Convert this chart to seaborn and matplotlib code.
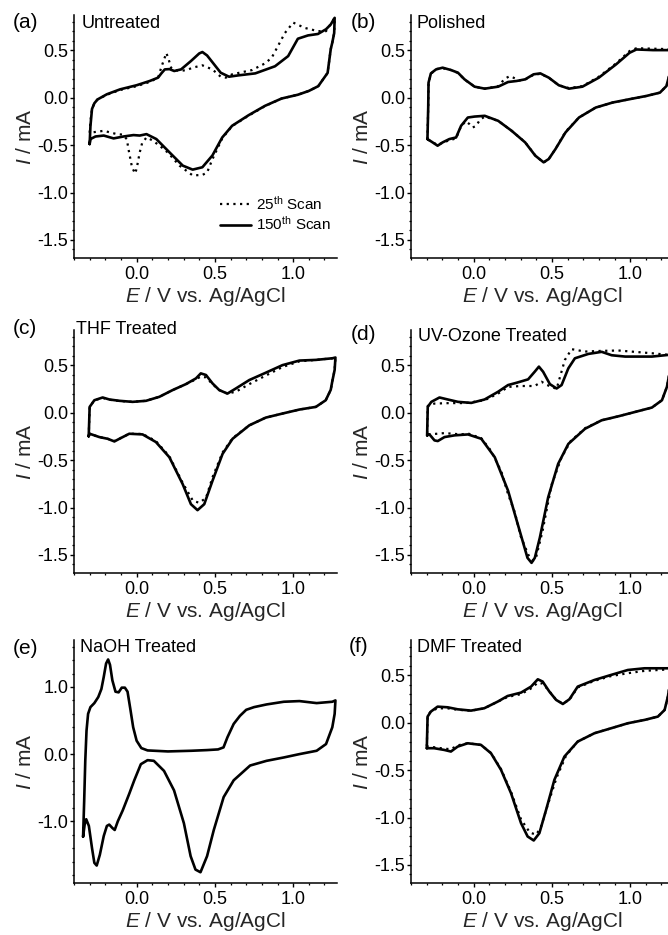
import numpy as np
import pandas as pd
import matplotlib
matplotlib.use("Agg")
import matplotlib.pyplot as plt
from matplotlib.ticker import MultipleLocator, FormatStrFormatter
import seaborn as sns

# ---------------- data (E in V, I in mA), loops: forward then reverse ----------------
# (a) Untreated
a150_E = [-0.30, -0.295, -0.285, -0.27, -0.25, -0.19, -0.105, 0.0, 0.084, 0.137, 0.158, 0.18, 0.21, 0.24, 0.284,
          0.347, 0.40, 0.42, 0.45, 0.495, 0.537, 0.59, 0.65, 0.758, 0.884, 0.968, 1.03, 1.095, 1.158, 1.21, 1.24, 1.265,
          1.262, 1.25, 1.24, 1.22, 1.16, 1.10, 1.03, 0.926, 0.82, 0.716, 0.61, 0.547, 0.484, 0.42, 0.358, 0.295, 0.21,
          0.126, 0.063, 0.02, -0.02, -0.084, -0.147, -0.21, -0.263, -0.295, -0.30]
a150_I = [-0.49, -0.30, -0.12, -0.06, -0.02, 0.035, 0.087, 0.13, 0.175, 0.21, 0.255, 0.297, 0.30, 0.28, 0.297,
          0.385, 0.465, 0.48, 0.444, 0.35, 0.262, 0.22, 0.234, 0.255, 0.33, 0.437, 0.62, 0.655, 0.67, 0.72, 0.77, 0.84,
          0.68, 0.58, 0.51, 0.26, 0.12, 0.07, 0.03, -0.01, -0.087, -0.185, -0.297, -0.42, -0.61, -0.734, -0.759, -0.717,
          -0.577, -0.437, -0.385, -0.40, -0.395, -0.41, -0.43, -0.40, -0.41, -0.437, -0.49]
a25_E = [-0.30, -0.295, -0.285, -0.27, -0.25, -0.19, -0.105, 0.0, 0.084, 0.137, 0.16, 0.19, 0.205, 0.22, 0.25,
         0.274, 0.32, 0.358, 0.42, 0.484, 0.537, 0.57, 0.61, 0.737, 0.82, 0.863, 0.947, 1.0, 1.074, 1.158, 1.21, 1.265,
         1.262, 1.25, 1.24, 1.22, 1.16, 1.10, 1.03, 0.926, 0.82, 0.716, 0.61, 0.547, 0.484, 0.45, 0.42, 0.358, 0.274,
         0.20, 0.147, 0.10, 0.063, 0.035, 0.02, 0.0, -0.01, -0.03, -0.05, -0.063, -0.09, -0.126, -0.21, -0.285, -0.30]
a25_I = [-0.37, -0.25, -0.12, -0.06, -0.02, 0.03, 0.08, 0.12, 0.165, 0.21, 0.33, 0.47, 0.40, 0.315, 0.29,
         0.28, 0.29, 0.315, 0.34, 0.297, 0.22, 0.21, 0.245, 0.29, 0.36, 0.42, 0.68, 0.79, 0.734, 0.70, 0.70, 0.84,
         0.68, 0.58, 0.51, 0.26, 0.12, 0.07, 0.03, -0.01, -0.09, -0.19, -0.30, -0.43, -0.65, -0.79, -0.815, -0.82, -0.717,
         -0.58, -0.507, -0.45, -0.42, -0.48, -0.577, -0.75, -0.80, -0.73, -0.56, -0.437, -0.39, -0.385, -0.35, -0.367, -0.37]

# (b) Polished
b150_E = [-0.295, -0.29, -0.288, -0.273, -0.24, -0.198, -0.144, -0.10, -0.058, 0.006, 0.071, 0.157, 0.22, 0.275, 0.329,
          0.383, 0.426, 0.48, 0.544, 0.609, 0.695, 0.80, 0.91, 0.996, 1.04, 1.146, 1.254, 1.27,
          1.265, 1.254, 1.232, 1.19, 1.103, 0.996, 0.888, 0.78, 0.673, 0.587, 0.523, 0.48, 0.447, 0.394, 0.329, 0.243,
          0.157, 0.071, 0.006, -0.037, -0.08, -0.112, -0.155, -0.198, -0.23, -0.262, -0.295]
b150_I = [-0.437, -0.10, 0.157, 0.255, 0.297, 0.315, 0.29, 0.262, 0.192, 0.115, 0.094, 0.115, 0.164, 0.175, 0.192,
          0.245, 0.255, 0.21, 0.13, 0.094, 0.115, 0.21, 0.35, 0.472, 0.507, 0.50, 0.50, 0.51,
          0.40, 0.262, 0.122, 0.052, 0.017, -0.017, -0.052, -0.105, -0.21, -0.367, -0.542, -0.647, -0.682, -0.612, -0.472,
          -0.35, -0.245, -0.192, -0.20, -0.21, -0.297, -0.42, -0.437, -0.472, -0.507, -0.472, -0.437]
b25_E = [-0.295, -0.29, -0.288, -0.273, -0.24, -0.198, -0.144, -0.10, -0.058, 0.006, 0.071, 0.157, 0.20, 0.23, 0.254, 0.29,
         0.329, 0.383, 0.426, 0.48, 0.544, 0.609, 0.695, 0.80, 0.91, 0.996, 1.04, 1.146, 1.254, 1.27,
         1.265, 1.254, 1.232, 1.19, 1.103, 0.996, 0.888, 0.78, 0.673, 0.587, 0.523, 0.48, 0.447, 0.394, 0.329, 0.243,
         0.157, 0.071, 0.04, 0.017, -0.006, -0.026, -0.05, -0.08, -0.112, -0.155, -0.198, -0.23, -0.262, -0.295]
b25_I = [-0.44, -0.10, 0.15, 0.25, 0.30, 0.31, 0.29, 0.26, 0.19, 0.115, 0.094, 0.12, 0.20, 0.225, 0.21, 0.18,
         0.19, 0.24, 0.25, 0.21, 0.13, 0.10, 0.12, 0.22, 0.36, 0.49, 0.52, 0.515, 0.51, 0.52,
         0.40, 0.262, 0.122, 0.052, 0.017, -0.017, -0.052, -0.105, -0.21, -0.36, -0.54, -0.647, -0.685, -0.61, -0.47,
         -0.35, -0.245, -0.20, -0.234, -0.297, -0.315, -0.28, -0.25, -0.30, -0.43, -0.45, -0.475, -0.50, -0.47, -0.44]

# (c) THF Treated
c150_E = [-0.306, -0.30, -0.27, -0.217, -0.174, -0.11, -0.026, 0.06, 0.145, 0.23, 0.315, 0.379, 0.41, 0.443, 0.485,
          0.528, 0.58, 0.634, 0.72, 0.825, 0.932, 1.04, 1.145, 1.25, 1.27,
          1.265, 1.25, 1.24, 1.208, 1.145, 1.04, 0.932, 0.825, 0.72, 0.613, 0.549, 0.485, 0.432, 0.389, 0.347, 0.294,
          0.209, 0.123, 0.038, -0.047, -0.11, -0.142, -0.185, -0.238, -0.30, -0.306]
c150_I = [-0.25, 0.06, 0.13, 0.159, 0.138, 0.124, 0.113, 0.124, 0.166, 0.237, 0.30, 0.36, 0.413, 0.396, 0.307,
          0.237, 0.20, 0.254, 0.343, 0.42, 0.50, 0.548, 0.555, 0.572, 0.58,
          0.45, 0.33, 0.24, 0.13, 0.06, 0.032, -0.01, -0.053, -0.134, -0.276, -0.435, -0.717, -0.965, -1.028, -0.965,
          -0.753, -0.47, -0.31, -0.23, -0.223, -0.276, -0.304, -0.276, -0.258, -0.223, -0.25]
c25_E = [-0.306, -0.30, -0.27, -0.217, -0.174, -0.11, -0.026, 0.06, 0.145, 0.23, 0.315, 0.379, 0.41, 0.443, 0.485,
         0.528, 0.58, 0.634, 0.72, 0.825, 0.932, 1.04, 1.145, 1.25, 1.27,
         1.265, 1.25, 1.24, 1.208, 1.145, 1.04, 0.932, 0.825, 0.72, 0.613, 0.549, 0.485, 0.443, 0.40, 0.36, 0.294,
         0.209, 0.123, 0.038, -0.047, -0.11, -0.142, -0.185, -0.238, -0.30, -0.306]
c25_I = [-0.25, 0.06, 0.13, 0.155, 0.135, 0.122, 0.113, 0.124, 0.166, 0.237, 0.30, 0.35, 0.38, 0.37, 0.30,
         0.237, 0.20, 0.22, 0.30, 0.39, 0.48, 0.54, 0.555, 0.572, 0.58,
         0.45, 0.33, 0.24, 0.13, 0.06, 0.032, -0.01, -0.053, -0.134, -0.27, -0.42, -0.68, -0.90, -0.95, -0.93, -0.74,
         -0.46, -0.30, -0.225, -0.223, -0.276, -0.30, -0.276, -0.258, -0.223, -0.25]

# (d) UV-Ozone Treated
d150_E = [-0.297, -0.293, -0.27, -0.218, -0.165, -0.10, -0.015, 0.07, 0.156, 0.22, 0.274, 0.348, 0.39, 0.417, 0.444,
          0.487, 0.53, 0.562, 0.605, 0.647, 0.733, 0.818, 0.882, 0.968, 1.139, 1.246, 1.27,
          1.265, 1.255, 1.235, 1.203, 1.139, 1.032, 0.925, 0.818, 0.712, 0.605, 0.54, 0.476, 0.423, 0.391, 0.37, 0.344,
          0.295, 0.22, 0.135, 0.049, -0.036, -0.122, -0.186, -0.229, -0.25, -0.282, -0.297]
d150_I = [-0.24, 0.06, 0.113, 0.159, 0.138, 0.113, 0.102, 0.138, 0.219, 0.29, 0.314, 0.35, 0.43, 0.484, 0.43,
          0.30, 0.254, 0.29, 0.466, 0.572, 0.618, 0.64, 0.604, 0.59, 0.59, 0.608, 0.61,
          0.52, 0.45, 0.272, 0.13, 0.053, 0.007, -0.039, -0.081, -0.17, -0.33, -0.54, -0.894, -1.318, -1.53, -1.583,
          -1.53, -1.25, -0.823, -0.47, -0.276, -0.23, -0.24, -0.258, -0.30, -0.293, -0.23, -0.24]
d25_E = [-0.297, -0.293, -0.25, -0.15, -0.05, 0.07, 0.156, 0.22, 0.30, 0.39, 0.434, 0.47, 0.53, 0.583, 0.626, 0.711,
         0.818, 0.925, 1.139, 1.246, 1.27,
         1.265, 1.255, 1.235, 1.203, 1.139, 1.032, 0.925, 0.818, 0.712, 0.62, 0.56, 0.498, 0.44, 0.40, 0.38, 0.35,
         0.30, 0.263, 0.22, 0.177, 0.11, 0.049, -0.036, -0.08, -0.186, -0.282, -0.297]
d25_I = [-0.22, 0.07, 0.095, 0.10, 0.10, 0.13, 0.20, 0.27, 0.28, 0.28, 0.325, 0.29, 0.25, 0.555, 0.668, 0.643,
         0.65, 0.654, 0.625, 0.608, 0.61,
         0.52, 0.45, 0.272, 0.13, 0.053, 0.007, -0.039, -0.081, -0.165, -0.30, -0.48, -0.76, -1.25, -1.52, -1.56, -1.50,
         -1.30, -1.05, -0.86, -0.62, -0.40, -0.27, -0.22, -0.23, -0.216, -0.23, -0.22]

# (e) NaOH Treated (single scan)
e150_E = [-0.342, -0.335, -0.328, -0.32, -0.31, -0.295, -0.27, -0.245, -0.225, -0.21, -0.195, -0.182, -0.17, -0.155,
          -0.135, -0.115, -0.095, -0.075, -0.058, -0.04, -0.022, 0.0, 0.03, 0.07, 0.20, 0.35, 0.45, 0.52, 0.555, 0.58,
          0.62, 0.66, 0.70, 0.75, 0.83, 0.94, 1.04, 1.15, 1.25, 1.27,
          1.265, 1.25, 1.21, 1.15, 1.04, 0.94, 0.83, 0.725, 0.62, 0.556, 0.493, 0.45, 0.408, 0.376, 0.345, 0.302, 0.239,
          0.175, 0.11, 0.07, 0.027, -0.015, -0.047, -0.089, -0.12, -0.14, -0.155, -0.175, -0.19, -0.21, -0.235, -0.255,
          -0.27, -0.285, -0.305, -0.322, -0.332, -0.342]
e150_I = [-1.23, -0.70, -0.10, 0.35, 0.60, 0.70, 0.76, 0.85, 0.97, 1.15, 1.35, 1.41, 1.33, 1.10,
          0.93, 0.92, 0.99, 0.99, 0.93, 0.67, 0.40, 0.20, 0.09, 0.055, 0.04, 0.05, 0.06, 0.07, 0.10, 0.25,
          0.45, 0.57, 0.66, 0.70, 0.74, 0.78, 0.79, 0.76, 0.78, 0.80,
          0.60, 0.40, 0.15, 0.05, 0.0, -0.05, -0.10, -0.17, -0.39, -0.64, -1.13, -1.52, -1.76, -1.72, -1.52, -1.03, -0.54,
          -0.25, -0.10, -0.09, -0.15, -0.39, -0.59, -0.84, -1.0, -1.13, -1.10, -1.05, -1.07, -1.22, -1.50, -1.66,
          -1.62, -1.40, -1.07, -0.97, -1.05, -1.23]

# (f) DMF Treated
f150_E = [-0.299, -0.294, -0.273, -0.23, -0.166, -0.102, -0.017, 0.068, 0.154, 0.217, 0.303, 0.367, 0.41, 0.441, 0.484,
          0.527, 0.57, 0.612, 0.665, 0.772, 0.878, 0.985, 1.092, 1.241, 1.27,
          1.265, 1.255, 1.241, 1.22, 1.177, 1.092, 0.985, 0.878, 0.772, 0.665, 0.58, 0.516, 0.463, 0.42, 0.384, 0.345,
          0.303, 0.239, 0.175, 0.111, 0.047, -0.038, -0.102, -0.145, -0.188, -0.252, -0.299]
f150_I = [-0.27, 0.063, 0.116, 0.168, 0.161, 0.14, 0.126, 0.151, 0.221, 0.28, 0.316, 0.379, 0.456, 0.432, 0.326,
          0.239, 0.196, 0.246, 0.379, 0.449, 0.502, 0.554, 0.572, 0.572, 0.58,
          0.50, 0.42, 0.274, 0.133, 0.063, 0.028, -0.007, -0.06, -0.112, -0.2, -0.358, -0.603, -0.919, -1.165, -1.242,
          -1.2, -1.06, -0.744, -0.498, -0.323, -0.235, -0.218, -0.253, -0.305, -0.288, -0.27, -0.27]
f25_E = [-0.299, -0.294, -0.273, -0.23, -0.166, -0.102, -0.017, 0.068, 0.154, 0.217, 0.303, 0.367, 0.41, 0.441, 0.484,
         0.527, 0.57, 0.612, 0.665, 0.772, 0.878, 0.985, 1.092, 1.241, 1.27,
         1.265, 1.255, 1.241, 1.22, 1.177, 1.092, 0.985, 0.878, 0.772, 0.665, 0.59, 0.53, 0.475, 0.43, 0.40, 0.36,
         0.303, 0.239, 0.175, 0.111, 0.047, -0.038, -0.102, -0.145, -0.188, -0.252, -0.299]
f25_I = [-0.25, 0.07, 0.12, 0.15, 0.15, 0.135, 0.125, 0.15, 0.22, 0.27, 0.30, 0.36, 0.42, 0.41, 0.33,
         0.24, 0.20, 0.24, 0.37, 0.44, 0.49, 0.52, 0.545, 0.56, 0.58,
         0.50, 0.42, 0.274, 0.133, 0.063, 0.028, -0.007, -0.06, -0.112, -0.2, -0.35, -0.58, -0.86, -1.10, -1.18,
         -1.16, -1.02, -0.73, -0.49, -0.32, -0.235, -0.218, -0.24, -0.28, -0.275, -0.26, -0.25]

panel_names = ["Untreated", "Polished", "THF Treated", "UV-Ozone Treated", "NaOH Treated", "DMF Treated"]
panel_tags = ["(a)", "(b)", "(c)", "(d)", "(e)", "(f)"]
scan_labels = ["25$^{\\mathrm{th}}$ Scan", "150$^{\\mathrm{th}}$ Scan"]
x_ticks = [0.0, 0.5, 1.0]

series = {
    0: {"25": (a25_E, a25_I), "150": (a150_E, a150_I)},
    1: {"25": (b25_E, b25_I), "150": (b150_E, b150_I)},
    2: {"25": (c25_E, c25_I), "150": (c150_E, c150_I)},
    3: {"25": (d25_E, d25_I), "150": (d150_E, d150_I)},
    4: {"150": (e150_E, e150_I)},
    5: {"25": (f25_E, f25_I), "150": (f150_E, f150_I)},
}
rows = []
for p, d in series.items():
    for s, (E, I) in d.items():
        for k, (e, i) in enumerate(zip(E, I)):
            rows.append({"panel": p, "scan": s, "k": k, "E": e, "I": i})
df = pd.DataFrame(rows)

# ---------------- style ----------------
sns.set_theme(style="ticks")
plt.rcParams["font.family"] = ["Liberation Sans", "DejaVu Sans"]
plt.rcParams["mathtext.fontset"] = "custom"
plt.rcParams["mathtext.rm"] = "Liberation Sans"
plt.rcParams["mathtext.it"] = "Liberation Sans:italic"
plt.rcParams["axes.unicode_minus"] = False
plt.rcParams["text.color"] = "black"

W, H = 668, 935
fig = plt.figure(figsize=(W / 100, H / 100), dpi=100)

col_left = [74, 411]
ax_w = 263
row_top = [15, 330, 640]
ax_h = 243

tag_pos = [(13, 23), (351, 23), (13, 329), (351, 335), (13, 648), (349, 646)]
name_pos = [(82, 24), (417, 23), (76, 329), (418, 337), (80, 648), (417, 648)]

for p in range(6):
    r, c = divmod(p, 2)
    l = col_left[c]
    t = row_top[r]
    ax = fig.add_axes([l / W, 1 - (t + ax_h) / H, ax_w / W, ax_h / H])
    sub = df[df.panel == p]
    if "25" in series[p]:
        sns.lineplot(data=sub[sub.scan == "25"], x="E", y="I", sort=False, estimator=None, ax=ax,
                     color="black", lw=1.6, linestyle=(0, (1, 2.0)), label=scan_labels[0])
    sns.lineplot(data=sub[sub.scan == "150"], x="E", y="I", sort=False, estimator=None, ax=ax,
                 color="black", lw=1.9, label=scan_labels[1])
    ax.set_xlim(-0.4, 1.28)
    if p == 4:
        ax.set_ylim(-1.92, 1.70)
        ax.yaxis.set_major_locator(MultipleLocator(1.0))
        ax.yaxis.set_minor_locator(MultipleLocator(0.2))
    else:
        ax.set_ylim(-1.69, 0.87)
        ax.yaxis.set_major_locator(MultipleLocator(0.5))
        ax.yaxis.set_minor_locator(MultipleLocator(0.1))
    ax.set_xticks(x_ticks)
    ax.xaxis.set_minor_locator(MultipleLocator(0.1))
    ax.xaxis.set_major_formatter(FormatStrFormatter("%.1f"))
    ax.yaxis.set_major_formatter(FormatStrFormatter("%.1f"))
    sns.despine(ax=ax)
    for sp in ["left", "bottom"]:
        ax.spines[sp].set_linewidth(1.1)
        ax.spines[sp].set_color("black")
    ax.tick_params(which="major", direction="out", length=3.0, width=1.0, labelsize=13, pad=1.0, colors="black")
    ax.tick_params(which="minor", direction="out", length=1.6, width=0.9, colors="black")
    ax.tick_params(axis="x", which="major", pad=3)
    ax.set_xlabel("$\\it{E}$ / V vs. Ag/AgCl", fontsize=15)
    ax.set_ylabel("$\\it{I}$ / mA", fontsize=15)
    ax.xaxis.set_label_coords(0.5, -0.112)
    ax.yaxis.set_label_coords(-0.15, 0.5)
    if p == 0:
        ax.legend(loc="upper left", bbox_to_anchor=(0.555, 0.262), frameon=False, fontsize=11,
                  handlelength=2.0, handletextpad=0.35, labelspacing=0.2, borderpad=0, borderaxespad=0)
    else:
        lg = ax.get_legend()
        if lg is not None:
            lg.remove()
    tx, ty = tag_pos[p]
    fig.text(tx / W, 1 - ty / H, panel_tags[p], fontsize=15, ha="left", va="center")
    nx, ny = name_pos[p]
    fig.text(nx / W, 1 - ny / H, panel_names[p], fontsize=13, ha="left", va="center")

fig.savefig("out.png", dpi=100)
